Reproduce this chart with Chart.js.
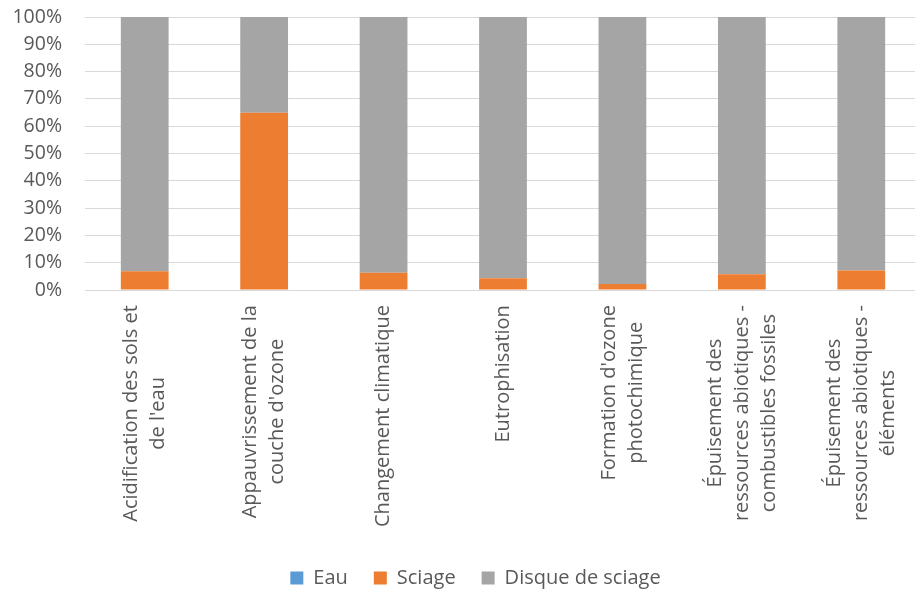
<!DOCTYPE html>
<html lang="fr">
<head>
    <meta charset="UTF-8">
    <title>Répartition des impacts</title>
    <script src="https://cdn.jsdelivr.net/npm/chart.js"></script>
    <style>
        html, body { margin: 0; padding: 0; background: #fff; overflow: hidden; }
        #wrap { width: 921px; height: 598px; }
    </style>
</head>
<body>
    <div id="wrap"><canvas id="impactChart"></canvas></div>

    <script>
        // categories (one array of lines per label)
        const categories = [
            ['Acidification des sols et', "de l'eau"],
            ['Appauvrissement de la', "couche d'ozone"],
            ['Changement climatique'],
            ['Eutrophisation'],
            ["Formation d'ozone", 'photochimique'],
            ['Épuisement des', 'ressources abiotiques -', 'combustibles fossiles'],
            ['Épuisement des', 'ressources abiotiques -', 'éléments']
        ];

        // shares in %
        const eau = [0, 0, 0, 0, 0, 0, 0];
        const sciage = [6.9, 64.9, 6.4, 4.3, 2.2, 5.8, 7.2];
        const disque = [93.1, 35.1, 93.6, 95.7, 97.8, 94.2, 92.8];

        const yTicks = [0, 10, 20, 30, 40, 50, 60, 70, 80, 90, 100];

        const textColor = '#595959';
        const labelFont = { family: 'Open Sans', size: 20 };

        // draws the rotated x labels with the lines centred on each other
        const centredLabels = {
            id: 'centredLabels',
            afterLayout(chart) {
                // let the y labels run into the left padding without being clipped
                chart.scales.y.left = 0;
            },
            afterDraw(chart) {
                const scale = chart.scales.x;
                const ctx = chart.ctx;
                const lh = 27;
                ctx.save();
                ctx.font = labelFont.size + 'px "' + labelFont.family + '"';
                ctx.fillStyle = textColor;
                ctx.textAlign = 'center';
                ctx.textBaseline = 'middle';
                categories.forEach((lines, i) => {
                    const x = scale.getPixelForTick(i);
                    const maxW = Math.max(...lines.map(l => ctx.measureText(l).width));
                    ctx.save();
                    ctx.translate(x, scale.top + 15 + maxW / 2);
                    ctx.rotate(-Math.PI / 2);
                    lines.forEach((l, j) => {
                        ctx.fillText(l, 0, (j - (lines.length - 1) / 2) * lh);
                    });
                    ctx.restore();
                });
                ctx.restore();
            }
        };

        const ctx = document.getElementById('impactChart').getContext('2d');
        new Chart(ctx, {
            type: 'bar',
            data: {
                labels: categories,
                datasets: [
                    { label: 'Eau', data: eau, backgroundColor: '#5B9BD5' },
                    { label: 'Sciage', data: sciage, backgroundColor: '#ED7D31' },
                    { label: 'Disque de sciage', data: disque, backgroundColor: '#A5A5A5' }
                ]
            },
            options: {
                responsive: true,
                maintainAspectRatio: false,
                animation: false,
                layout: { padding: { top: 0, left: 30, right: 0, bottom: 0 } },
                datasets: {
                    bar: { categoryPercentage: 1, barPercentage: 0.4 }
                },
                scales: {
                    x: {
                        stacked: true,
                        afterFit: axis => {
                            axis.paddingLeft = 0;
                            axis.paddingRight = 0;
                        },
                        grid: { display: false },
                        border: { color: '#D9D9D9', width: 1 },
                        ticks: {
                            color: 'rgba(0,0,0,0)',
                            font: labelFont,
                            maxRotation: 90,
                            minRotation: 90,
                            padding: 11
                        }
                    },
                    y: {
                        stacked: true,
                        min: 0,
                        max: 100,
                        afterBuildTicks: axis => { axis.ticks = yTicks.map(v => ({ value: v })); },
                        afterFit: axis => {
                            axis.width = 55;
                            axis.paddingTop = 17;
                            axis.paddingBottom = 0;
                        },
                        grid: { color: '#D9D9D9', lineWidth: 1, drawTicks: false },
                        border: { display: false },
                        ticks: {
                            autoSkip: false,
                            color: textColor,
                            font: { family: 'Open Sans', size: 19.5 },
                            padding: 23,
                            callback: v => v + '%'
                        }
                    }
                },
                plugins: {
                    legend: {
                        position: 'bottom',
                        labels: {
                            color: textColor,
                            font: { family: 'Open Sans', size: 20 },
                            boxWidth: 13,
                            boxHeight: 13,
                            padding: 26
                        }
                    },
                    tooltip: { enabled: false }
                }
            },
            plugins: [centredLabels]
        });
    </script>
</body>
</html>
